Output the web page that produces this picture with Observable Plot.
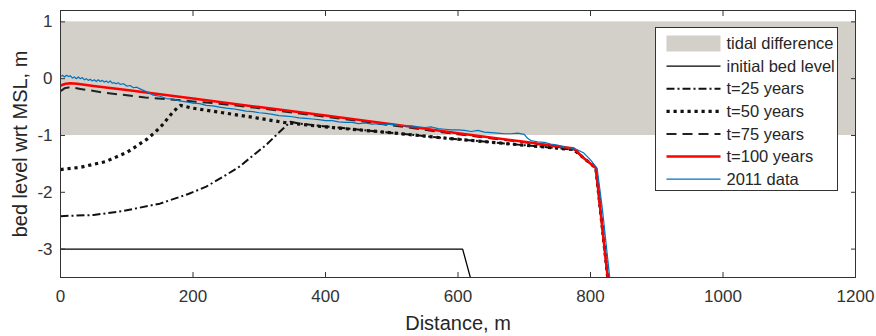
<!DOCTYPE html>
<html><head><meta charset="utf-8">
<script src="https://cdn.jsdelivr.net/npm/d3@7"></script>
<script src="https://cdn.jsdelivr.net/npm/@observablehq/plot@0.6"></script>
<style>
body{margin:0;background:#fff}
#chart{position:relative;width:876px;height:336px}
svg text{font-family:"Liberation Sans",Arial,Helvetica,sans-serif}
</style>
</head><body><div id="chart"></div>
<script>
// ---- data ----
const xTicks = [0, 200, 400, 600, 800, 1000, 1200];
const yTicks = [-3, -2, -1, 0, 1];
const xDomain = [0, 1200];
const yDomain = [-3.5, 1.2];
const tideX = [0, 1200];
const tideY = [-1, 1];

const initialX = [0, 607, 621];
const initialY = [-3, -3, -3.6];

const t25X = [0, 50, 94, 150, 193, 220, 245, 270, 294, 310, 325, 337, 347, 360, 400, 488, 584, 680, 775, 792, 808, 826];
const t25Y = [-2.42, -2.40, -2.33, -2.20, -2.03, -1.90, -1.73, -1.55, -1.32, -1.17, -1.00, -0.87, -0.76, -0.79, -0.84, -0.94, -1.05, -1.15, -1.25, -1.42, -1.57, -3.5];

const t50X = [0, 30, 68, 100, 113, 130, 143, 155, 163, 172, 181, 200, 245, 290, 337, 400, 488, 584, 680, 775, 792, 808, 826];
const t50Y = [-1.60, -1.56, -1.46, -1.30, -1.20, -1.07, -0.94, -0.80, -0.68, -0.56, -0.47, -0.52, -0.60, -0.68, -0.77, -0.85, -0.94, -1.05, -1.15, -1.25, -1.42, -1.57, -3.5];

const t75X = [0, 6, 14, 30, 68, 128, 200, 240, 300, 400, 500, 600, 700, 775, 792, 808, 826];
const t75Y = [-0.22, -0.17, -0.15, -0.18, -0.25, -0.33, -0.40, -0.44, -0.52, -0.67, -0.82, -0.98, -1.12, -1.24, -1.42, -1.57, -3.5];

const t100X = [0, 8, 15, 25, 50, 100, 200, 300, 400, 500, 600, 700, 775, 792, 808, 826];
const t100Y = [-0.12, -0.09, -0.08, -0.09, -0.13, -0.20, -0.35, -0.50, -0.65, -0.80, -0.96, -1.11, -1.23, -1.42, -1.57, -3.5];

const dataX = [0, 3, 6, 9, 12, 15, 18, 21, 24, 27, 30, 33, 36, 39, 42, 45, 48, 51, 54, 57, 60, 63, 66, 69, 72, 75, 78, 81, 84, 87, 90, 95, 100, 105, 110, 115, 120,
  130, 140, 150, 160, 170, 180, 190, 200, 210, 220, 230, 240, 250, 260, 270, 280, 290, 300, 310, 320, 330, 340, 350, 360, 370, 380, 390, 400,
  410, 420, 430, 440, 450, 460, 470, 480, 490, 500, 510, 520, 530, 540, 550, 560, 570, 580, 590, 600, 610, 620, 630, 640, 650, 660, 670, 680, 690, 700,
  705, 710, 720, 730, 740, 750, 760, 770, 780, 790, 800, 810, 818, 829];
const dataY = [0.04, 0.06, 0.03, 0.06, 0.04, 0.05, 0.01, 0.03, 0.00, 0.03, 0.00, 0.02, -0.02, 0.00, -0.03, -0.01, -0.04, -0.02, -0.05, -0.02, -0.05, -0.03, -0.06, -0.04, -0.07, -0.04, -0.08, -0.07, -0.09, -0.07, -0.10, -0.09, -0.13, -0.12, -0.16, -0.15, -0.18,
  -0.23, -0.29, -0.31, -0.35, -0.36, -0.39, -0.41, -0.43, -0.44, -0.47, -0.48, -0.50, -0.52, -0.53, -0.55, -0.57, -0.58, -0.60, -0.61, -0.63, -0.65, -0.66, -0.67, -0.69, -0.70, -0.71, -0.72, -0.74,
  -0.74, -0.76, -0.77, -0.77, -0.79, -0.78, -0.80, -0.79, -0.81, -0.80, -0.82, -0.83, -0.83, -0.85, -0.86, -0.85, -0.88, -0.89, -0.90, -0.90, -0.91, -0.93, -0.91, -0.94, -0.95, -0.96, -0.97, -0.97, -0.96, -0.98,
  -1.05, -1.09, -1.11, -1.12, -1.15, -1.17, -1.20, -1.22, -1.25, -1.31, -1.43, -1.58, -2.30, -3.5];

const seriesNames = ["initial bed level", "t=25 years", "t=50 years", "t=75 years", "t=100 years", "2011 data"];
const tideName = "tidal difference";
const xLabel = "Distance, m";
const yLabel = "bed level wrt MSL, m";

// ---- styles ----
const tideFill = "#d3d0ca";
const styles = [
  {stroke: "#000", strokeWidth: 1.3, dash: null},
  {stroke: "#111", strokeWidth: 2, dash: "8,3,2,3"},
  {stroke: "#111", strokeWidth: 3.2, dash: "3.2,3.8"},
  {stroke: "#222", strokeWidth: 2, dash: "10,6"},
  {stroke: "#ff0000", strokeWidth: 2.5, dash: null},
  {stroke: "#0072bd", strokeWidth: 1.2, dash: null}
];
const xs = [initialX, t25X, t50X, t75X, t100X, dataX];
const ys = [initialY, t25Y, t50Y, t75Y, t100Y, dataY];
const series = xs.map((X, i) => X.map((x, j) => ({x, y: ys[i][j]})));
const tide = [{x1: tideX[0], x2: tideX[1], y1: tideY[0], y2: tideY[1]}];

const ink = "#262626";
const axisInk = "#333";
const fmt = d => String(d);
const blank = () => "";
const plot = Plot.plot({
  width: 876, height: 336,
  marginLeft: 60, marginRight: 21, marginTop: 10, marginBottom: 59,
  x: {domain: xDomain},
  y: {domain: yDomain},
  style: {fontFamily: '"Liberation Sans", Arial, sans-serif', color: ink, background: "#fff"},
  marks: [
    Plot.rect(tide, {x1: "x1", x2: "x2", y1: "y1", y2: "y2", fill: tideFill}),
    ...series.map((d, i) => Plot.line(d, {x: "x", y: "y", stroke: styles[i].stroke, strokeWidth: styles[i].strokeWidth,
      strokeDasharray: styles[i].dash, strokeLinecap: "butt", strokeLinejoin: "round", clip: true})),
    Plot.frame({stroke: axisInk, strokeWidth: 1}),
    // tick labels (no tick marks)
    Plot.axisX({anchor: "bottom", ticks: xTicks, tickSize: 0, tickPadding: 12, fontSize: 17, tickFormat: fmt, label: null, fill: "#333"}),
    Plot.axisY({anchor: "left", ticks: yTicks, tickSize: 0, tickPadding: 8, fontSize: 17, tickFormat: fmt, label: null, fill: "#333"}),
    // inward tick marks on all four sides
    Plot.axisX({anchor: "bottom", ticks: xTicks, tickSize: 5, dy: -5, tickFormat: blank, label: null, stroke: axisInk}),
    Plot.axisX({anchor: "top", ticks: xTicks, tickSize: 5, dy: 5, tickFormat: blank, label: null, stroke: axisInk}),
    Plot.axisY({anchor: "left", ticks: yTicks, tickSize: 5, dx: 5, tickFormat: blank, label: null, stroke: axisInk}),
    Plot.axisY({anchor: "right", ticks: yTicks, tickSize: 5, dx: -5, tickFormat: blank, label: null, stroke: axisInk}),
    Plot.text([xLabel], {text: d => d, frameAnchor: "bottom", dy: 46, fontSize: 20, fill: ink, textAnchor: "middle", lineAnchor: "middle"}),
    Plot.text([yLabel], {text: d => d, frameAnchor: "left", dx: -40, rotate: -90, fontSize: 20, fill: ink, textAnchor: "middle", lineAnchor: "middle"})
  ]
});
document.getElementById("chart").appendChild(plot);

// ---- legend (drawn into the SVG) ----
const svg = d3.select(plot);
const lg = svg.append("g").attr("transform", "translate(655.5,27.5)").attr("text-anchor", "start");
lg.append("rect").attr("width", 182).attr("height", 163).attr("fill", "#fff").attr("stroke", axisInk);
const rowY = i => 16 + i * 22.6;
const row0 = lg.append("g").attr("transform", `translate(0,${rowY(0)})`);
row0.append("rect").attr("x", 11).attr("y", -8).attr("width", 54).attr("height", 16).attr("fill", tideFill);
row0.append("text").attr("x", 71).attr("dy", "0.35em").attr("font-size", 16.5).attr("fill", ink).text(tideName);
seriesNames.forEach((name, i) => {
  const g = lg.append("g").attr("transform", `translate(0,${rowY(i + 1)})`);
  g.append("line").attr("x1", 11).attr("x2", 65).attr("stroke", styles[i].stroke)
    .attr("stroke-width", styles[i].strokeWidth).attr("stroke-dasharray", styles[i].dash);
  g.append("text").attr("x", 71).attr("dy", "0.35em").attr("font-size", 16.5).attr("fill", ink).text(name);
});
</script>
</body></html>
